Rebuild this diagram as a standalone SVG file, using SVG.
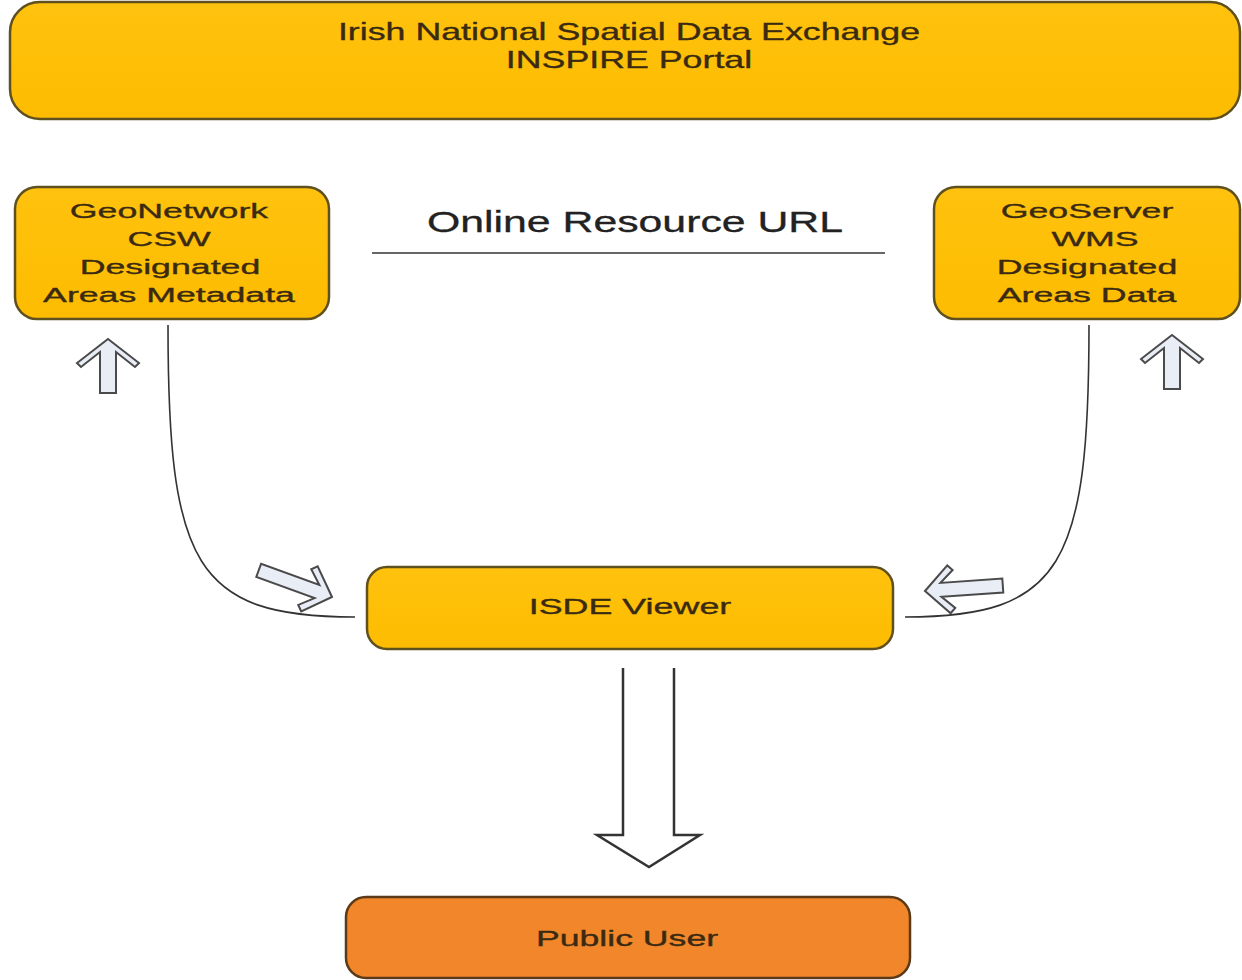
<svg xmlns="http://www.w3.org/2000/svg" width="1242" height="980" viewBox="0 0 1242 980">
  <defs>
    <linearGradient id="gy" x1="0" y1="0" x2="0" y2="1">
      <stop offset="0" stop-color="#FFC20E"/>
      <stop offset="1" stop-color="#FDBC00"/>
    </linearGradient>
    <path id="uparrow" d="M0,0 L-24,31 L-28,27 L-13,8 L-54,8 L-54,-8 L-13,-8 L-28,-27 L-24,-31 Z"/>
    <path id="diagarrow" d="M0,0 L-24,-24 L-29,-19 L-16,-7 L-78,-7 L-78,7 L-16,7 L-29,19 L-24,24 Z"/>
  </defs>
  <style>
    .box { fill: url(#gy); stroke: #5f5020; stroke-width: 2.5; }
    .orange { fill: #F1862A; stroke: #5a3a18; stroke-width: 2.5; }
    .lbl { font-family: "Liberation Sans", Arial, sans-serif; fill: #3a2a12; stroke: #3a2a12; stroke-width: 0.35; text-anchor: middle; }
    .conn { fill: none; stroke: #333; stroke-width: 1.6; }
    .blk { fill: #E8EDF6; stroke: #4a4a4a; stroke-width: 2; stroke-linejoin: miter; }
    .big { fill: #ffffff; stroke: #333; stroke-width: 2.5; }
  </style>
  <rect width="1242" height="980" fill="#ffffff"/>

  <g id="inspire-portal">
    <rect class="box" x="10" y="2" width="1230" height="117" rx="30" ry="30"/>
    <text class="lbl" font-size="24" transform="translate(629,40) scale(1.49,1)">Irish National Spatial Data Exchange</text>
    <text class="lbl" font-size="24" transform="translate(629,68) scale(1.49,1)">INSPIRE Portal</text>
  </g>

  <g id="geonetwork">
    <rect class="box" x="15" y="187" width="314" height="132" rx="22" ry="22"/>
    <text class="lbl" font-size="21" transform="translate(169,218) scale(1.70,1)">GeoNetwork</text>
    <text class="lbl" font-size="21" transform="translate(169,246) scale(1.70,1)">CSW</text>
    <text class="lbl" font-size="21" transform="translate(170,274) scale(1.70,1)">Designated</text>
    <text class="lbl" font-size="21" transform="translate(169,302) scale(1.70,1)">Areas Metadata</text>
  </g>

  <g id="geoserver">
    <rect class="box" x="934" y="187" width="306" height="132" rx="22" ry="22"/>
    <text class="lbl" font-size="21" transform="translate(1087,218) scale(1.70,1)">GeoServer</text>
    <text class="lbl" font-size="21" transform="translate(1095,246) scale(1.70,1)">WMS</text>
    <text class="lbl" font-size="21" transform="translate(1087,274) scale(1.70,1)">Designated</text>
    <text class="lbl" font-size="21" transform="translate(1087,302) scale(1.70,1)">Areas Data</text>
  </g>

  <g id="isde-viewer">
    <rect class="box" x="367" y="567" width="526" height="82" rx="20" ry="20"/>
    <text class="lbl" font-size="22" transform="translate(630,614) scale(1.63,1)">ISDE Viewer</text>
  </g>

  <g id="public-user">
    <rect class="orange" x="346" y="897" width="564" height="81" rx="20" ry="20"/>
    <text class="lbl" font-size="22" transform="translate(627,946) scale(1.62,1)">Public User</text>
  </g>

  <g id="online-resource-url">
    <text font-family="Liberation Sans, Arial, sans-serif" font-size="29" fill="#222" stroke="#222" stroke-width="0.3" text-anchor="middle" transform="translate(635,232) scale(1.475,1)">Online Resource URL</text>
  </g>

  <g id="connectors">
    <line class="conn" x1="372" y1="253" x2="885" y2="253" stroke-width="2"/>
    <path class="conn" d="M168,325 C168,565 195,617 355,617"/>
    <path class="conn" d="M1089,325 C1089,565 1062,617 905,617"/>
    <use href="#uparrow" class="blk" transform="translate(108,339) rotate(-90)"/>
    <use href="#uparrow" class="blk" transform="translate(1172,335) rotate(-90)"/>
    <use href="#diagarrow" class="blk" transform="translate(332,597) rotate(20)"/>
    <use href="#diagarrow" class="blk" transform="translate(925,591) rotate(176)"/>
    <path class="big" d="M623,668 L623,835 L597,835 L649,867 L700,835 L674,835 L674,668"/>
  </g>
</svg>
